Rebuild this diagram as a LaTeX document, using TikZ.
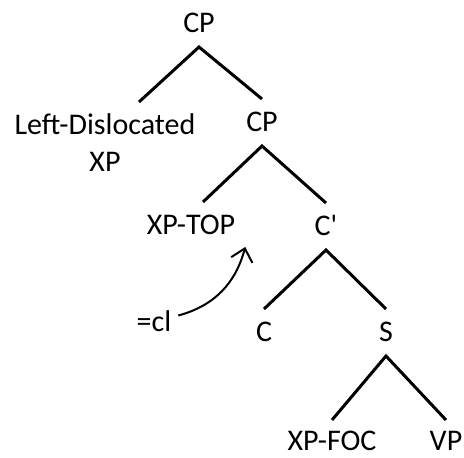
\documentclass[tikz,border=0pt]{standalone}
\usepackage{fontspec}
\setmainfont{Carlito}
\usetikzlibrary{arrows.meta}

\begin{document}
\begin{tikzpicture}[x=1pt,y=1pt,
  lbl/.style={font=\fontsize{30}{37}\selectfont, inner sep=0pt, outer xsep=0pt,
    outer ysep=14pt, text height=19pt, anchor=base},
  word/.style={lbl, text depth=0pt},
  branch/.style={line width=3pt},
  move/.style={line width=2pt, -{Straight Barb[length=12pt,width=22pt]}}]
\useasboundingbox (0,0) rectangle (464,458);
% labels, placed at their baselines
\node[word] (cp1) at (199,425) {CP};
\node[lbl,align=center,text height=56pt] (ld) at (105,286) {Left-Dislocated\\XP};
\node[word] (cp2) at (262,326) {CP};
\node[word] (xptop) at (191,223) {XP-TOP};
\node[word] (cbar) at (326,222) {C\textquotesingle};
\node[word] (cl) at (154,126) {=cl};
\node[word] (c) at (264,116) {C};
\node[word] (s) at (386,116) {S};
\node[word] (xpfoc) at (332,7) {XP-FOC};
\node[word] (vp) at (446,7) {VP};
% branches
\draw[branch] ([xshift=34pt]ld.north) -- (cp1.south) -- (cp2.north);
\draw[branch] ([xshift=12pt]xptop.north) -- (cp2.south) -- (cbar.north);
\draw[branch] (c.north) -- (cbar.south) -- (s.north);
\draw[branch] ([yshift=-2pt]xpfoc.north) -- (s.south) -- ([yshift=-2pt]vp.north);
% clitic arrow
\draw[move] ([shift={(7pt,7pt)}]cl.east) to[out=15,in=-105] ([shift={(10pt,2pt)}]xptop.south east);
\end{tikzpicture}
\end{document}
